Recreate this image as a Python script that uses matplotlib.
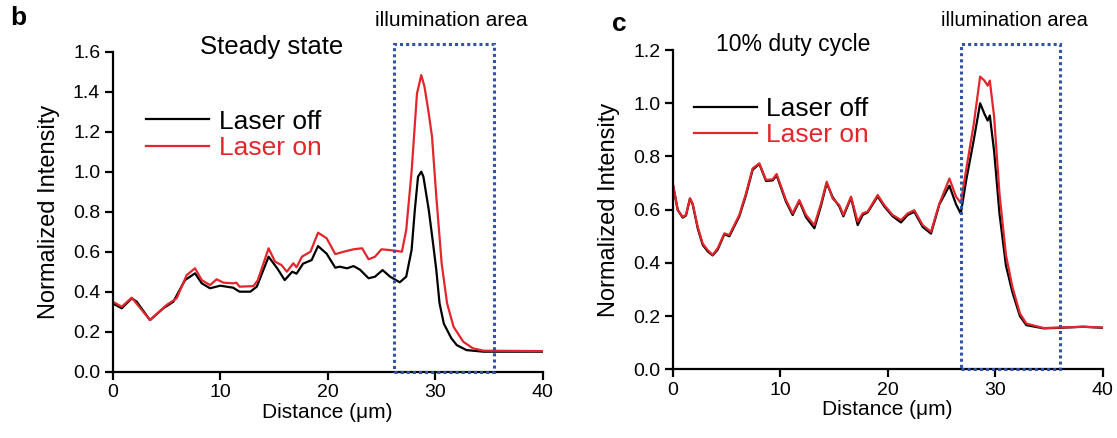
import matplotlib.pyplot as plt
from matplotlib.patches import Rectangle

plt.rcParams['font.family'] = ['Liberation Sans', 'DejaVu Sans']

# panel b, steady state
b_off_x = [0, 0.84, 1.77, 2.23, 3.47, 4.71, 5.64, 6.73, 7.66, 8.28, 9.05, 10.0, 11.2, 11.8,
           12.8, 13.4, 14.5, 15.3, 16.0, 16.7, 17.1, 17.7, 18.5, 19.1, 19.9, 20.7, 21.1, 21.8,
           22.4, 23.0, 23.8, 24.4, 25.1, 25.8, 26.7, 27.3, 27.8, 28.1, 28.4, 28.7, 28.9, 29.4,
           29.8, 30.1, 30.4, 30.8, 31.5, 32.0, 32.9, 34.5, 40]
b_off_y = [0.342, 0.317, 0.367, 0.35, 0.258, 0.317, 0.35, 0.458, 0.492, 0.442, 0.417, 0.43, 0.42, 0.40,
           0.40, 0.425, 0.575, 0.517, 0.458, 0.50, 0.49, 0.54, 0.558, 0.628, 0.59, 0.52, 0.525, 0.517,
           0.528, 0.51, 0.467, 0.475, 0.508, 0.475, 0.447, 0.475, 0.608, 0.808, 0.975, 1.0, 0.975, 0.808,
           0.64, 0.508, 0.342, 0.24, 0.167, 0.133, 0.108, 0.10, 0.10]
b_on_x = [0, 0.84, 1.77, 3.47, 5.0, 5.95, 6.88, 7.66, 8.28, 9.05, 9.67, 10.3, 11.2, 11.5, 11.8,
          13.1, 13.5, 14.5, 15.1, 15.7, 16.2, 16.8, 17.1, 17.6, 18.4, 19.1, 19.9, 20.7, 21.5,
          22.4, 23.2, 23.8, 24.4, 25.0, 25.8, 26.9, 27.3, 27.8, 28.3, 28.7, 29.0, 29.4, 29.7,
          30.1, 30.6, 31.1, 31.7, 32.6, 33.5, 34.5, 40]
b_on_y = [0.35, 0.325, 0.37, 0.258, 0.333, 0.367, 0.483, 0.517, 0.458, 0.433, 0.462, 0.445, 0.442, 0.445, 0.425,
          0.428, 0.458, 0.617, 0.55, 0.533, 0.50, 0.542, 0.522, 0.575, 0.60, 0.695, 0.667, 0.588, 0.60,
          0.612, 0.617, 0.562, 0.575, 0.612, 0.608, 0.60, 0.708, 1.0, 1.39, 1.483, 1.425, 1.29, 1.175,
          0.875, 0.54, 0.342, 0.225, 0.15, 0.117, 0.105, 0.103]

# panel c, 10% duty cycle
c_x = [0, 0.47, 0.93, 1.24, 1.61, 1.86, 2.33, 2.79, 3.26, 3.72, 4.19, 4.81, 5.27, 6.2, 6.82,
       7.44, 8.06, 8.68, 9.3, 9.67, 10.54, 11.16, 11.78, 12.4, 13.18, 13.8, 14.33, 14.88, 15.5,
       15.88, 16.59, 17.21, 17.67, 18.14, 19.07, 19.69, 20.46, 21.24, 21.86, 22.48, 23.26, 24.03,
       24.81, 25.74, 26.36, 26.8, 27.3, 28.0, 28.6, 29.0, 29.3, 29.5, 29.9, 30.4, 31.0, 31.6,
       32.3, 32.9, 34.5, 36.0, 38.2, 40]
c_off_y = [0.70, 0.599, 0.57, 0.578, 0.642, 0.62, 0.53, 0.468, 0.443, 0.428, 0.45, 0.508, 0.50, 0.575, 0.655,
           0.75, 0.772, 0.708, 0.71, 0.729, 0.63, 0.58, 0.632, 0.572, 0.53, 0.615, 0.70, 0.647, 0.612,
           0.575, 0.645, 0.542, 0.58, 0.59, 0.65, 0.612, 0.575, 0.552, 0.58, 0.592, 0.535, 0.51,
           0.62, 0.69, 0.62, 0.585, 0.71, 0.86, 1.0, 0.96, 0.935, 0.954, 0.82, 0.585, 0.39, 0.29,
           0.20, 0.166, 0.154, 0.156, 0.16, 0.156]
c_on_y = [0.70, 0.599, 0.573, 0.58, 0.642, 0.623, 0.536, 0.473, 0.448, 0.43, 0.455, 0.511, 0.505, 0.58, 0.661,
          0.755, 0.774, 0.712, 0.714, 0.734, 0.636, 0.586, 0.636, 0.58, 0.542, 0.623, 0.705, 0.642, 0.617,
          0.58, 0.649, 0.555, 0.586, 0.593, 0.655, 0.617, 0.58, 0.561, 0.586, 0.598, 0.542, 0.517,
          0.623, 0.717, 0.649, 0.625, 0.75, 0.92, 1.10, 1.085, 1.066, 1.085, 0.95, 0.66, 0.43, 0.31,
          0.21, 0.172, 0.155, 0.157, 0.16, 0.157]

RED = '#e3262b'
BOX = '#3453a8'

fig = plt.figure(figsize=(11.17, 4.38), dpi=100)
axb = fig.add_axes([0.1009, 0.1514, 0.385, 0.7306])
axc = fig.add_axes([0.6022, 0.1568, 0.385, 0.729])

def style(ax, ymax):
    ax.set_xlim(0, 40)
    ax.set_ylim(0, ymax)
    ax.set_xticks([0, 10, 20, 30, 40])
    ax.set_yticks([i * 0.2 for i in range(int(round(ymax / 0.2)) + 1)])
    ax.yaxis.set_major_formatter(plt.FormatStrFormatter('%.1f'))
    for s in ['top', 'right']:
        ax.spines[s].set_visible(False)
    for s in ['left', 'bottom']:
        ax.spines[s].set_linewidth(1.6)
    ax.tick_params(direction='out', length=6, width=1.6, labelsize=14, pad=3)
    ax.set_xlabel('Distance (\u03bcm)', fontsize=15, labelpad=1)
    ax.set_ylabel('Normalized Intensity', fontsize=17, labelpad=9)

axb.plot(b_off_x, b_off_y, color='black', lw=1.6, label='Laser off')
axb.plot(b_on_x, b_on_y, color=RED, lw=1.6, label='Laser on')
style(axb, 1.6)
# illumination box, dotted, reaches a bit above the axis top
axb.add_patch(Rectangle((26.2, 0), 9.3, 1.64, fill=False, ls=(0, (1, 1)), lw=2.2,
                        edgecolor=BOX, clip_on=False, zorder=3))
axb.legend(loc='upper left', bbox_to_anchor=(0.047, 0.86), frameon=False, fontsize=19,
           handlelength=2.4, handletextpad=0.35, labelspacing=0.08, borderpad=0,
           labelcolor=['black', RED])

axc.plot(c_x, c_off_y, color='black', lw=1.6, label='Laser off')
axc.plot(c_x, c_on_y, color=RED, lw=1.6, label='Laser on')
style(axc, 1.2)
axc.add_patch(Rectangle((26.8, 0), 9.2, 1.222, fill=False, ls=(0, (1, 1)), lw=2.2,
                        edgecolor=BOX, clip_on=False, zorder=3))
axc.legend(loc='upper left', bbox_to_anchor=(0.018, 0.895), frameon=False, fontsize=19,
           handlelength=2.4, handletextpad=0.35, labelspacing=0.08, borderpad=0,
           labelcolor=['black', RED])

fig.text(272 / 1117, 1 - 47 / 438, 'Steady state', fontsize=18.5, ha='center', va='center')
fig.text(793 / 1117, 1 - 44 / 438, '10% duty cycle', fontsize=16.5, ha='center', va='center')
fig.text(451 / 1117, 1 - 20 / 438, 'illumination area', fontsize=15, ha='center', va='center')
fig.text(1014 / 1117, 1 - 20 / 438, 'illumination area', fontsize=14.5, ha='center', va='center')
fig.text(10 / 1117, 1 - 18 / 438, 'b', fontsize=19, fontweight='bold', va='center')
fig.text(612 / 1117, 1 - 24 / 438, 'c', fontsize=19, fontweight='bold', va='center')

fig.savefig('out.png', dpi=100)
